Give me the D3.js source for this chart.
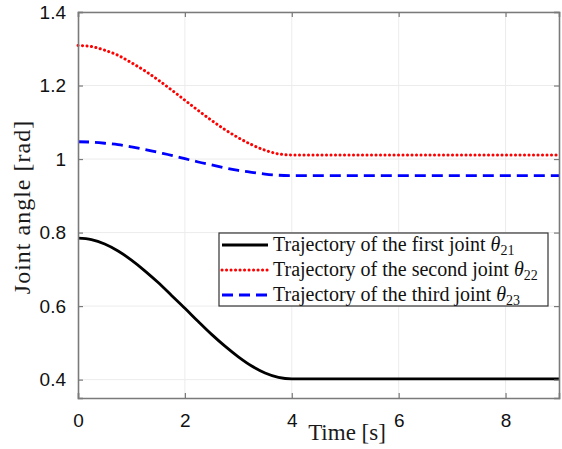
<!DOCTYPE html>
<html>
<head>
<meta charset="utf-8">
<script src="https://cdn.jsdelivr.net/npm/d3@7"></script>
<style>
  body { margin: 0; background: #fff; }
  svg { display: block; }
</style>
</head>
<body>
<script>
let width = 562;
let height = 449;

// time samples [s]
let time = [0, 0.25, 0.5, 0.75, 1, 1.25, 1.5, 1.75, 2, 2.25, 2.5, 2.75, 3, 3.25, 3.5, 3.75, 4, 5, 6, 7, 8, 9];
// joint angles [rad]
let theta21 = [0.785, 0.781, 0.769, 0.750, 0.725, 0.696, 0.664, 0.629, 0.594, 0.558, 0.523, 0.491, 0.462, 0.437, 0.418, 0.406, 0.402, 0.402, 0.402, 0.402, 0.402, 0.402];
let theta22 = [1.309, 1.306, 1.296, 1.282, 1.262, 1.240, 1.215, 1.188, 1.160, 1.132, 1.105, 1.080, 1.058, 1.039, 1.024, 1.014, 1.011, 1.011, 1.011, 1.011, 1.011, 1.011];
let theta23 = [1.047, 1.046, 1.043, 1.039, 1.033, 1.026, 1.018, 1.010, 1.001, 0.992, 0.984, 0.976, 0.969, 0.964, 0.959, 0.956, 0.955, 0.955, 0.955, 0.955, 0.955, 0.955];

let xTicks = [0, 2, 4, 6, 8];
let yTicks = [0.4, 0.6, 0.8, 1, 1.2, 1.4];

let series = [
  { name: 'Trajectory of the first joint ', sub: '21', values: theta21, color: '#000000', dash: null, cap: 'butt' },
  { name: 'Trajectory of the second joint ', sub: '22', values: theta22, color: '#ff0000', dash: '0.1,4.4', cap: 'round' },
  { name: 'Trajectory of the third joint ', sub: '23', values: theta23, color: '#0000ff', dash: '11,6', cap: 'butt' }
];

let margin = { left: 78, right: 3, top: 12, bottom: 51 };

let xScale = d3.scaleLinear()
               .domain([0, 9])
               .range([margin.left, width - margin.right]);

let yScale = d3.scaleLinear()
               .domain([0.35, 1.4])
               .range([height - margin.bottom, margin.top]);

let svg = d3.select('body').append('svg')
            .attr('width', width)
            .attr('height', height);

let axisColor = '#7a7a7a';

// grid
svg.append('g')
   .selectAll('line.vgrid')
   .data(xTicks.slice(1))
   .enter()
   .append('line')
   .attr('x1', function(d) { return xScale(d); })
   .attr('x2', function(d) { return xScale(d); })
   .attr('y1', yScale(0.35))
   .attr('y2', yScale(1.4))
   .attr('stroke', '#ececec')
   .attr('stroke-width', 1);

svg.append('g')
   .selectAll('line.hgrid')
   .data(yTicks)
   .enter()
   .append('line')
   .attr('x1', xScale(0))
   .attr('x2', xScale(9))
   .attr('y1', function(d) { return yScale(d); })
   .attr('y2', function(d) { return yScale(d); })
   .attr('stroke', '#ececec')
   .attr('stroke-width', 1);

// lines
let line = d3.line()
             .x(function(d) { return xScale(d[0]); })
             .y(function(d) { return yScale(d[1]); })
             .curve(d3.curveMonotoneX);

series.forEach(function(s) {
  svg.append('path')
     .datum(d3.zip(time, s.values))
     .attr('d', line)
     .attr('fill', 'none')
     .attr('stroke', s.color)
     .attr('stroke-width', s.cap === 'round' ? 3 : 2.8)
     .attr('stroke-linecap', s.cap)
     .attr('stroke-dasharray', s.dash);
});

// axes (MATLAB box with inward ticks)
let bottomAxis = d3.axisBottom(xScale).tickValues(xTicks).tickSize(-5).tickPadding(16).tickFormat(d3.format('d'));
let topAxis = d3.axisTop(xScale).tickValues(xTicks).tickSize(-5).tickFormat('');
let leftAxis = d3.axisLeft(yScale).tickValues(yTicks).tickSize(-5).tickPadding(12).tickFormat(function(d) { return d === 1 ? '1' : d3.format('.1f')(d); });
let rightAxis = d3.axisRight(yScale).tickValues(yTicks).tickSize(-5).tickFormat('');

function styleAxis(g) {
  g.selectAll('path').attr('stroke', axisColor).attr('stroke-width', 1.6);
  g.selectAll('line').attr('stroke', axisColor).attr('stroke-width', 1.2);
  g.selectAll('text')
   .attr('fill', '#111')
   .style('font-family', '"Liberation Sans", Arial, sans-serif')
   .style('font-size', '19px');
}

svg.append('g').attr('transform', 'translate(0,' + yScale(0.35) + ')').call(bottomAxis).call(styleAxis);
svg.append('g').attr('transform', 'translate(0,' + yScale(1.4) + ')').call(topAxis).call(styleAxis);
svg.append('g').attr('transform', 'translate(' + xScale(0) + ',0)').call(leftAxis).call(styleAxis);
svg.append('g').attr('transform', 'translate(' + xScale(9) + ',0)').call(rightAxis).call(styleAxis);

// axis labels
svg.append('text')
   .attr('x', 347)
   .attr('y', 440)
   .attr('text-anchor', 'middle')
   .style('font-family', '"Liberation Serif", "Times New Roman", serif')
   .style('font-size', '23px')
   .attr('fill', '#1a1a1a')
   .text('Time [s]');

svg.append('text')
   .attr('transform', 'translate(30,' + 207 + ') rotate(-90)')
   .attr('text-anchor', 'middle')
   .style('font-family', '"Liberation Serif", "Times New Roman", serif')
   .style('font-size', '24px')
   .style('letter-spacing', '1px')
   .attr('fill', '#1a1a1a')
   .text('Joint angle [rad]');

// legend
let legend = svg.append('g').attr('transform', 'translate(219,233)');

legend.append('rect')
      .attr('width', 329)
      .attr('height', 73)
      .attr('fill', '#fff')
      .attr('stroke', '#333')
      .attr('stroke-width', 1.2);

let items = legend.selectAll('g.item')
                  .data(series)
                  .enter()
                  .append('g')
                  .attr('transform', function(d, i) { return 'translate(0,' + (12 + i * 25) + ')'; });

items.append('line')
     .attr('x1', 3)
     .attr('x2', 49)
     .attr('y1', 0)
     .attr('y2', 0)
     .attr('stroke', function(d) { return d.color; })
     .attr('stroke-width', function(d) { return d.cap === 'round' ? 3 : 2.8; })
     .attr('stroke-linecap', function(d) { return d.cap; })
     .attr('stroke-dasharray', function(d) { return d.dash; });

let labelText = items.append('text')
     .attr('x', 54)
     .attr('y', 6)
     .style('font-family', '"Liberation Serif", "Times New Roman", serif')
     .style('font-size', '20px')
     .attr('fill', '#111');

labelText.append('tspan').text(function(d) { return d.name; });
labelText.append('tspan').style('font-style', 'italic').text('θ');
labelText.append('tspan')
         .attr('dy', 4)
         .style('font-size', '14px')
         .text(function(d) { return d.sub; });
</script>
</body>
</html>
